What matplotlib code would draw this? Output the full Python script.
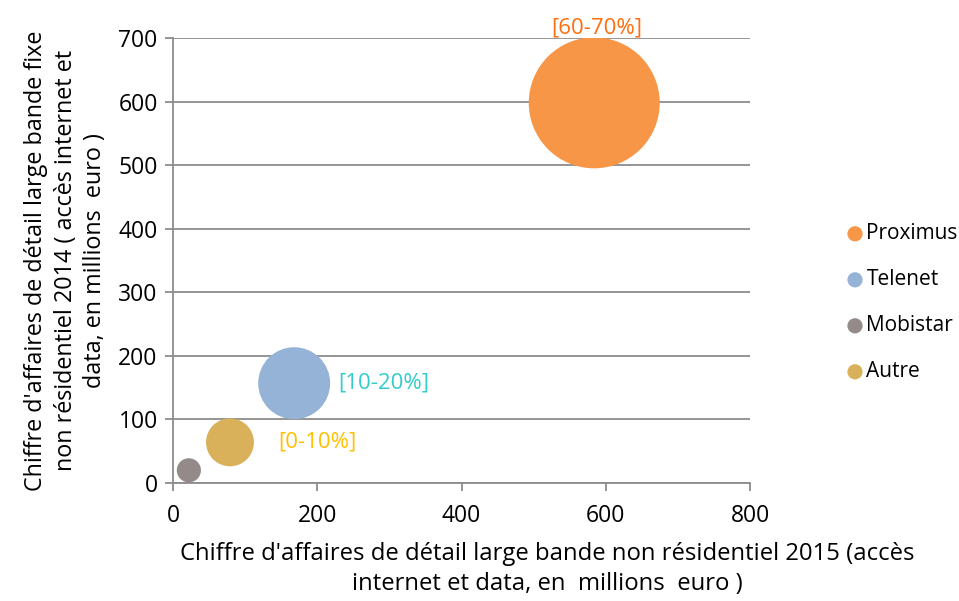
import matplotlib.pyplot as plt
import numpy as np

plt.rcParams['font.family'] = ['Open Sans', 'DejaVu Sans']

# data
operators = ["Proximus", "Telenet", "Mobistar", "Autre"]
ca_2015 = [584, 168, 22, 79]
ca_2014 = [598, 157, 20, 64]
bubble = [100, 30.2, 3.4, 13.4]   # relative bubble area
colors = ["#F79646", "#95B3D7", "#948A8A", "#D9B15A"]
share_labels = {"Proximus": "[60-70%]", "Telenet": "[10-20%]", "Autre": "[0-10%]"}
label_colors = {"Proximus": "#FF6D0D", "Telenet": "#33CCCC", "Autre": "#FFC000"}
label_offsets = {"Proximus": (2, 54), "Telenet": (32, 0), "Autre": (35, 0)}  # points

fig = plt.figure(figsize=(9.59, 6.01), dpi=100)
ax = fig.add_axes([0.1804, 0.1963, 0.6017, 0.7405])

size_scale = 88.9
for name, x, y, b, c in zip(operators, ca_2015, ca_2014, bubble, colors):
	ax.scatter(x, y, s=b * size_scale, color=c, edgecolor='none', zorder=3, label=name)

# percent labels next to bubbles
for name, x, y in zip(operators, ca_2015, ca_2014):
	if name not in share_labels:
		continue
	if name == "Proximus":
		ax.annotate(share_labels[name], (x, y), xytext=label_offsets[name], textcoords='offset points',
			ha='center', va='center', color=label_colors[name], fontsize=16, zorder=4)
	else:
		ax.annotate(share_labels[name], (x, y), xytext=label_offsets[name], textcoords='offset points',
			ha='left', va='center', color=label_colors[name], fontsize=16, zorder=4)

ax.set_xlim(0, 800)
ax.set_ylim(0, 700)
ax.set_xticks(np.arange(0, 801, 200))
ax.set_yticks(np.arange(0, 701, 100))
ax.yaxis.grid(True, color='#8C8C8C', linewidth=1.3)
ax.set_axisbelow(True)
for s in ['top', 'right']:
	ax.spines[s].set_visible(False)
for s in ['left', 'bottom']:
	ax.spines[s].set_color('#8C8C8C')
	ax.spines[s].set_linewidth(1.3)
ax.tick_params(axis='both', direction='out', length=6, width=1.3, color='#8C8C8C',
	labelsize=16.5, labelcolor='black')
ax.tick_params(axis='x', pad=9)
ax.tick_params(axis='y', pad=5)

ax.set_ylabel("Chiffre d'affaires de détail large bande fixe\nnon résidentiel 2014 ( accès internet et\ndata, en millions  euro )",
	fontsize=16.8, linespacing=1.3, labelpad=8)
fig.text(0.571, 0.053, "Chiffre d'affaires de détail large bande non résidentiel 2015 (accès\ninternet et data, en  millions  euro )",
	ha='center', va='center', fontsize=17.2, linespacing=1.35)

leg = ax.legend(loc='center left', bbox_to_anchor=(1.135, 0.405), frameon=False, fontsize=15,
	markerscale=1, handletextpad=0.15, labelspacing=1.2, handlelength=0.8)
for h in leg.legend_handles:
	h.set_sizes([120])

fig.savefig("out.png", dpi=100)
